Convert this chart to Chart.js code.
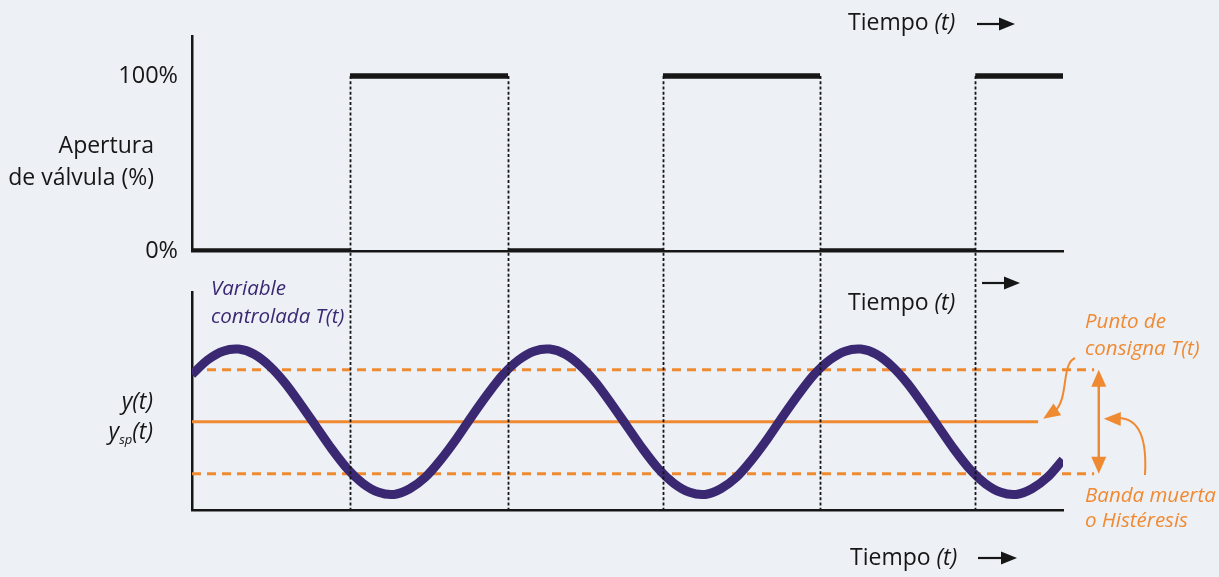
<!DOCTYPE html>
<html>
<head>
<meta charset="utf-8">
<script src="https://cdn.jsdelivr.net/npm/chart.js@4.4.1/dist/chart.umd.min.js"></script>
<style>
  html, body { margin: 0; padding: 0; background: #edf0f5; }
  #wrap { position: relative; width: 1219px; height: 577px; overflow: hidden; }
  #wrap canvas { position: absolute; left: 0; top: 0; }
</style>
</head>
<body>
<div id="wrap">
  <canvas id="grafValvula" width="1219" height="577"></canvas>
  <canvas id="grafVariable" width="1219" height="577"></canvas>
</div>
<script>
// tiempos de conmutación de la válvula y apertura en cada tramo
const conmutaciones = [5.08, 10.16, 15.14, 20.19, 25.18];
const aperturaTramos = [0, 100, 0, 100, 0, 100];
const tiempoFin = 28;

// variable controlada T(t), leída cada 0.5 unidades de tiempo
const tiempoMuestras = [
  0, 0.5, 1, 1.5, 2, 2.5, 3, 3.5, 4, 4.5, 5, 5.5, 6, 6.5, 7, 7.5, 8, 8.5, 9, 9.5,
  10, 10.5, 11, 11.5, 12, 12.5, 13, 13.5, 14, 14.5, 15, 15.5, 16, 16.5, 17, 17.5, 18, 18.5, 19, 19.5,
  20, 20.5, 21, 21.5, 22, 22.5, 23, 23.5, 24, 24.5, 25, 25.5, 26, 26.5, 27, 27.5, 28
];
const variableT = [
  59.1, 61.9, 63.6, 64.0, 63.0, 60.7, 57.4, 53.3, 49.0, 44.7, 40.9, 38.1, 36.4, 36.0, 37.1, 39.3, 42.7, 46.7, 51.1, 55.3,
  59.1, 61.9, 63.6, 64.0, 63.0, 60.7, 57.4, 53.3, 49.0, 44.7, 40.9, 38.1, 36.4, 36.0, 37.1, 39.3, 42.7, 46.7, 51.1, 55.3,
  59.1, 61.9, 63.6, 64.0, 63.0, 60.7, 57.4, 53.3, 49.0, 44.7, 40.9, 38.1, 36.4, 36.0, 37.1, 39.3, 42.7
];

// punto de consigna y banda muerta
const consigna = 50;
const bandaSuperior = 60;
const bandaInferior = 40;
const finConsigna = 27.2;
const finBanda = 29;

// textos
const etiquetasApertura = ['0%', '100%'];
const tituloApertura = ['Apertura', 'de válvula (%)'];
const tituloVariable = ['Variable', 'controlada T(t)'];
const tituloConsigna = ['Punto de', 'consigna T(t)'];
const tituloBanda = ['Banda muerta', 'o Histéresis'];

const NEGRO = '#161616';
const MORADO = '#3b2873';
const NARANJA = '#f08a32';
const FUENTE = "'Open Sans', sans-serif";

// tramos horizontales de la señal todo/nada (sin verticales)
const inicios = [0, ...conmutaciones];
const finales = [...conmutaciones, tiempoFin];
const puntosValvula = [];
aperturaTramos.forEach((v, i) => {
  puntosValvula.push({ x: inicios[i], y: v }, { x: finales[i], y: v }, { x: finales[i], y: null });
});

function etiquetaTiempo(ctx, x, y) {
  ctx.fillStyle = NEGRO;
  ctx.textAlign = 'left';
  ctx.font = '23px ' + FUENTE;
  ctx.fillText('Tiempo ', x, y);
  const w = ctx.measureText('Tiempo ').width;
  ctx.font = 'italic 23px ' + FUENTE;
  ctx.fillText('(t)', x + w, y);
}

function flecha(ctx, x1, x2, y) {
  ctx.save();
  ctx.strokeStyle = NEGRO;
  ctx.fillStyle = NEGRO;
  ctx.lineWidth = 2.2;
  ctx.beginPath();
  ctx.moveTo(x1, y);
  ctx.lineTo(x2 - 10, y);
  ctx.stroke();
  ctx.beginPath();
  ctx.moveTo(x2, y);
  ctx.lineTo(x2 - 16, y - 6.5);
  ctx.lineTo(x2 - 16, y + 6.5);
  ctx.closePath();
  ctx.fill();
  ctx.restore();
}

// punta de flecha rellena, desde (fx, fy) hacia la punta (px, py)
function punta(ctx, fx, fy, px, py, largo, ancho) {
  const a = Math.atan2(py - fy, px - fx);
  const bx = px - Math.cos(a) * largo;
  const by = py - Math.sin(a) * largo;
  ctx.beginPath();
  ctx.moveTo(px, py);
  ctx.lineTo(bx + Math.sin(a) * ancho / 2, by - Math.cos(a) * ancho / 2);
  ctx.lineTo(bx - Math.sin(a) * ancho / 2, by + Math.cos(a) * ancho / 2);
  ctx.closePath();
  ctx.fill();
}

const textosValvula = {
  id: 'textosValvula',
  afterDraw(chart) {
    const { ctx, chartArea, scales } = chart;
    const yMedio = (scales.y.getPixelForValue(0) + scales.y.getPixelForValue(100)) / 2;
    ctx.save();
    ctx.fillStyle = NEGRO;
    ctx.font = '23px ' + FUENTE;
    ctx.textAlign = 'right';
    ctx.textBaseline = 'alphabetic';
    ctx.fillText(tituloApertura[0], chartArea.left - 38, yMedio - 11);
    ctx.fillText(tituloApertura[1], chartArea.left - 38, yMedio + 21);

    etiquetaTiempo(ctx, 848, 30);
    flecha(ctx, 977, 1015, 24);
    etiquetaTiempo(ctx, 848, 310);
    flecha(ctx, 982, 1020, 283);
    ctx.restore();
  }
};

const graficoValvula = new Chart(document.getElementById('grafValvula'), {
  type: 'line',
  data: {
    datasets: [{
      data: puntosValvula,
      borderColor: NEGRO,
      borderWidth: 5.5,
      borderCapStyle: 'butt',
      pointRadius: 0,
      spanGaps: false,
      tension: 0
    }]
  },
  options: {
    responsive: false,
    animation: false,
    events: [],
    layout: { padding: { left: 0, right: 156, top: 36, bottom: 326 } },
    plugins: { legend: { display: false }, tooltip: { enabled: false } },
    scales: {
      x: {
        type: 'linear', min: 0, max: tiempoFin,
        ticks: { display: false },
        grid: { display: false, drawTicks: false },
        border: { color: NEGRO, width: 2.5 },
        afterFit: s => { s.height = 0; }
      },
      y: {
        min: 0, max: 122.9,
        afterBuildTicks: s => { s.ticks = [{ value: 0 }, { value: 100 }]; },
        ticks: {
          callback: v => etiquetasApertura[v === 100 ? 1 : 0],
          font: { family: FUENTE, size: 23.5 },
          color: NEGRO,
          padding: 14
        },
        grid: { display: false, drawTicks: false },
        border: { color: NEGRO, width: 2.5 },
        afterFit: s => { s.width = 192; }
      }
    }
  },
  plugins: [textosValvula]
});

const anotacionesVariable = {
  id: 'anotacionesVariable',
  afterDatasetsDraw(chart) {
    // líneas punteadas en cada conmutación, desde el 100% hasta el eje inferior
    const { ctx, chartArea, scales } = chart;
    const yArriba = graficoValvula.scales.y.getPixelForValue(100);
    ctx.save();
    ctx.strokeStyle = NEGRO;
    ctx.lineWidth = 1.8;
    ctx.setLineDash([3, 2.2]);
    conmutaciones.forEach(t => {
      const x = Math.round(scales.x.getPixelForValue(t)) + 0.5;
      ctx.beginPath();
      ctx.moveTo(x, yArriba);
      ctx.lineTo(x, chartArea.bottom);
      ctx.stroke();
    });
    ctx.restore();
  },
  afterDraw(chart) {
    const { ctx, chartArea, scales } = chart;
    ctx.save();
    ctx.textBaseline = 'alphabetic';

    // Variable controlada
    ctx.fillStyle = MORADO;
    ctx.font = 'italic 20.5px ' + FUENTE;
    ctx.textAlign = 'left';
    ctx.fillText(tituloVariable[0], 211, 295);
    ctx.fillText(tituloVariable[1], 211, 323);

    // y(t) / y_sp(t)
    ctx.fillStyle = NEGRO;
    ctx.font = 'italic 23px ' + FUENTE;
    ctx.textAlign = 'right';
    const xDer = chartArea.left - 39;
    ctx.fillText('y(t)', xDer, 409);
    const wt = ctx.measureText('(t)').width;
    ctx.fillText('(t)', xDer, 439);
    ctx.font = 'italic 13px ' + FUENTE;
    const wsp = ctx.measureText('sp').width;
    ctx.fillText('sp', xDer - wt, 444);
    ctx.font = 'italic 23px ' + FUENTE;
    ctx.fillText('y', xDer - wt - wsp, 439);

    // textos naranjas
    ctx.fillStyle = NARANJA;
    ctx.font = 'italic 20.5px ' + FUENTE;
    ctx.textAlign = 'left';
    ctx.fillText(tituloConsigna[0], 1085, 328);
    ctx.fillText(tituloConsigna[1], 1085, 355);
    ctx.fillText(tituloBanda[0], 1085, 502);
    ctx.fillText(tituloBanda[1], 1085, 527);

    // flecha doble de la banda muerta
    const xb = scales.x.getPixelForValue(29.15);
    const ys = scales.y.getPixelForValue(bandaSuperior);
    const yi = scales.y.getPixelForValue(bandaInferior);
    ctx.strokeStyle = NARANJA;
    ctx.lineWidth = 2.5;
    ctx.beginPath();
    ctx.moveTo(xb, ys + 12);
    ctx.lineTo(xb, yi - 12);
    ctx.stroke();
    punta(ctx, xb, ys + 20, xb, ys, 17, 15);
    punta(ctx, xb, yi - 20, xb, yi, 17, 15);

    // flecha curva hacia la consigna
    const xc = scales.x.getPixelForValue(finConsigna);
    const yc = scales.y.getPixelForValue(consigna);
    ctx.lineWidth = 2;
    ctx.beginPath();
    ctx.moveTo(1075, 358);
    ctx.bezierCurveTo(1061, 364, 1069, 398, 1055, 411);
    ctx.stroke();
    punta(ctx, 1058, 409, xc + 5, yc - 3, 17, 14);

    // flecha curva hacia la banda
    ctx.beginPath();
    ctx.moveTo(1145, 475);
    ctx.bezierCurveTo(1147, 440, 1140, 418, 1118, 418);
    ctx.stroke();
    punta(ctx, 1125, 419, xb + 5, yc - 3, 17, 14);

    // eje de tiempo inferior
    etiquetaTiempo(ctx, 850, 565);
    flecha(ctx, 978, 1017, 558);
    ctx.restore();
  }
};

const graficoVariable = new Chart(document.getElementById('grafVariable'), {
  type: 'line',
  data: {
    datasets: [
      {
        data: tiempoMuestras.map((t, i) => ({ x: t, y: variableT[i] })),
        borderColor: MORADO,
        borderWidth: 9,
        borderCapStyle: 'butt',
        pointRadius: 0,
        tension: 0.3,
        order: 0
      },
      {
        data: [{ x: 0, y: consigna }, { x: finConsigna, y: consigna }],
        borderColor: NARANJA,
        borderWidth: 3,
        pointRadius: 0,
        order: 1
      },
      {
        data: [{ x: 0, y: bandaSuperior }, { x: finBanda, y: bandaSuperior }],
        borderColor: NARANJA,
        borderWidth: 3,
        borderDash: [9, 6],
        pointRadius: 0,
        clip: false,
        order: 1
      },
      {
        data: [{ x: 0, y: bandaInferior }, { x: finBanda, y: bandaInferior }],
        borderColor: NARANJA,
        borderWidth: 3,
        borderDash: [9, 6],
        pointRadius: 0,
        clip: false,
        order: 1
      }
    ]
  },
  options: {
    responsive: false,
    animation: false,
    events: [],
    layout: { padding: { left: 0, right: 156, top: 292, bottom: 67 } },
    plugins: { legend: { display: false }, tooltip: { enabled: false } },
    scales: {
      x: {
        type: 'linear', min: 0, max: tiempoFin,
        ticks: { display: false },
        grid: { display: false, drawTicks: false },
        border: { color: NEGRO, width: 2.5 },
        afterFit: s => { s.height = 0; }
      },
      y: {
        min: 33, max: 75,
        ticks: { display: false },
        grid: { display: false, drawTicks: false },
        border: { color: NEGRO, width: 2.5 },
        afterFit: s => { s.width = 192; }
      }
    }
  },
  plugins: [anotacionesVariable]
});
</script>
</body>
</html>
